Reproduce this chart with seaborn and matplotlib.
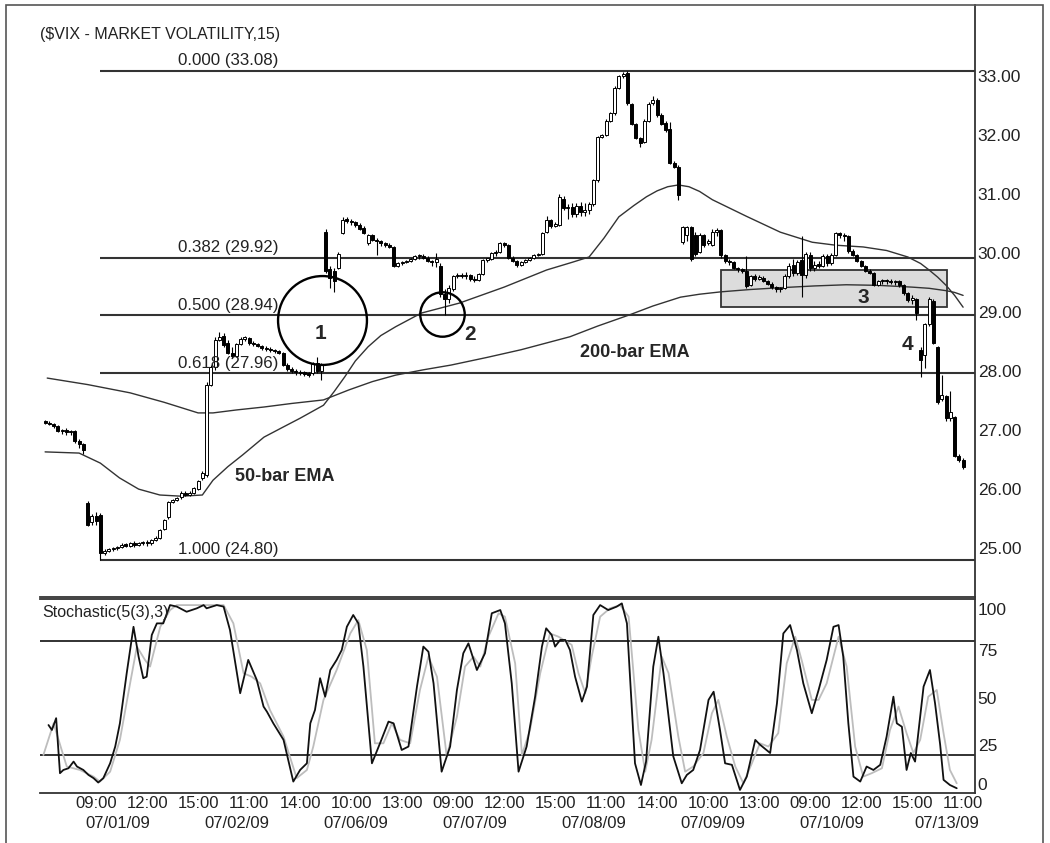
import numpy as np
import pandas as pd
import matplotlib
matplotlib.use('Agg')
import matplotlib.pyplot as plt
import matplotlib.transforms as mtransforms
from matplotlib.patches import Rectangle
import seaborn as sns

# ---- VIX 15-minute bars, 06/30/09 (last bars) .. 07/13/09 (morning) ----
days = ['06/30/09', '07/01/09', '07/02/09', '07/06/09', '07/07/09',
        '07/08/09', '07/09/09', '07/10/09', '07/13/09']
bars_per_day = [10, 28, 28, 28, 28, 28, 28, 28, 11]

open_ = [
    27.15, 27.12, 27.10, 27.06, 26.98, 27.00, 26.96, 26.98, 26.82, 26.76,
    25.77, 25.44, 25.54, 25.56, 24.92, 24.96, 24.98, 25.00, 25.02, 25.06, 25.04, 25.08, 25.05, 25.08,
    25.10, 25.08, 25.14, 25.18, 25.32, 25.52, 25.78, 25.82, 25.86, 25.94, 25.90, 25.93, 26.00, 26.18,
    26.24, 27.76, 28.06, 28.53, 28.60, 28.48, 28.30, 28.26, 28.46, 28.55, 28.56, 28.47, 28.45, 28.42,
    28.39, 28.37, 28.35, 28.33, 28.30, 28.10, 28.04, 28.00, 27.98, 27.96, 27.95, 27.96, 28.14, 28.00,
    30.35, 29.72, 29.70, 29.75, 30.34, 30.56, 30.54, 30.52, 30.47, 30.42, 30.16, 30.30, 30.22, 30.20,
    30.16, 30.14, 30.10, 29.78, 29.82, 29.84, 29.86, 29.90, 29.94, 29.95, 29.92, 29.86, 29.84, 29.78,
    29.30, 29.22, 29.38, 29.60, 29.63, 29.60, 29.62, 29.56, 29.54, 29.65, 29.88, 29.90, 29.99, 30.02,
    30.16, 30.13, 29.92, 29.86, 29.80, 29.84, 29.88, 29.92, 29.96, 29.98, 30.36, 30.55, 30.46, 30.48,
    30.92, 30.76, 30.78, 30.66, 30.80, 30.70, 30.72, 30.82, 31.23, 31.96, 32.00, 32.24, 32.36, 32.80,
    33.00, 33.04, 32.52, 32.18, 31.94, 31.88, 32.24, 32.54, 32.58, 32.33, 32.20, 32.10, 31.52, 31.46,
    30.18, 30.30, 30.44, 30.30, 30.02, 30.30, 30.16, 30.14, 30.36, 30.38, 29.96, 29.86, 29.84, 29.74,
    29.72, 29.70, 29.46, 29.60, 29.56, 29.58, 29.52, 29.48, 29.42, 29.38, 29.40, 29.60, 29.80, 29.66,
    29.88, 29.62, 29.96, 29.74, 29.80, 29.78, 29.94, 29.82, 29.96, 30.34, 30.30, 30.28, 30.04, 29.96,
    29.86, 29.78, 29.70, 29.66, 29.46, 29.52, 29.54, 29.52, 29.50, 29.52, 29.46, 29.32, 29.20, 29.22,
    28.35, 28.27, 28.80, 29.18, 28.40, 27.52, 27.58, 27.20, 27.22, 26.56, 26.50,
]
high_ = [
    27.17, 27.15, 27.12, 27.08, 27.02, 27.03, 27.00, 27.00, 26.84, 26.78,
    25.80, 25.58, 25.62, 25.60, 24.98, 25.00, 25.02, 25.04, 25.08, 25.08, 25.10, 25.12, 25.10, 25.12,
    25.14, 25.16, 25.20, 25.32, 25.50, 25.80, 25.84, 25.87, 25.96, 25.96, 25.96, 26.03, 26.16, 26.30,
    27.82, 28.10, 28.58, 28.66, 28.64, 28.52, 28.40, 28.48, 28.58, 28.60, 28.58, 28.50, 28.48, 28.44,
    28.42, 28.40, 28.38, 28.36, 28.32, 28.14, 28.06, 28.04, 28.02, 28.00, 27.98, 28.16, 28.24, 28.14,
    30.40, 29.78, 29.75, 30.02, 30.60, 30.60, 30.58, 30.54, 30.50, 30.46, 30.32, 30.32, 30.26, 30.22,
    30.18, 30.16, 30.12, 29.84, 29.86, 29.88, 29.92, 29.96, 29.98, 29.98, 29.94, 29.88, 30.00, 29.82,
    29.38, 29.45, 29.62, 29.66, 29.66, 29.68, 29.64, 29.60, 29.66, 29.90, 29.92, 30.02, 30.05, 30.18,
    30.18, 30.15, 29.95, 29.88, 29.86, 29.90, 29.93, 29.98, 30.00, 30.36, 30.62, 30.58, 30.52, 31.00,
    30.96, 30.82, 30.85, 30.84, 30.86, 30.84, 30.86, 31.25, 31.98, 32.02, 32.26, 32.38, 32.82, 33.02,
    33.06, 33.08, 32.54, 32.20, 31.96, 32.26, 32.56, 32.65, 32.62, 32.36, 32.24, 32.22, 31.55, 31.48,
    30.46, 30.46, 30.46, 30.36, 30.34, 30.32, 30.24, 30.40, 30.42, 30.40, 29.98, 29.90, 29.86, 29.76,
    29.74, 29.94, 29.62, 29.64, 29.62, 29.60, 29.54, 29.50, 29.44, 29.42, 29.64, 29.82, 29.90, 29.88,
    30.28, 30.02, 30.02, 29.86, 29.86, 29.98, 29.98, 29.99, 30.36, 30.36, 30.34, 30.30, 30.06, 29.98,
    29.88, 29.80, 29.72, 29.68, 29.54, 29.56, 29.56, 29.56, 29.54, 29.54, 29.48, 29.34, 29.28, 29.24,
    28.40, 28.82, 29.26, 29.22, 28.42, 27.94, 27.60, 27.66, 27.24, 26.60, 26.52,
]
low_ = [
    27.10, 27.08, 27.04, 26.96, 26.94, 26.92, 26.92, 26.78, 26.70, 26.60,
    25.38, 25.40, 25.40, 24.80, 24.88, 24.93, 24.95, 24.97, 25.00, 25.02, 25.02, 25.02, 25.03, 25.06,
    25.04, 25.06, 25.12, 25.16, 25.30, 25.50, 25.76, 25.80, 25.84, 25.88, 25.88, 25.92, 25.98, 26.16,
    26.20, 27.74, 28.02, 28.50, 28.40, 28.28, 28.22, 28.24, 28.44, 28.50, 28.44, 28.42, 28.40, 28.36,
    28.34, 28.32, 28.30, 28.28, 28.08, 28.00, 27.96, 27.94, 27.93, 27.92, 27.90, 27.94, 27.96, 27.85,
    29.66, 29.40, 29.33, 29.72, 30.32, 30.50, 30.48, 30.44, 30.38, 30.32, 30.14, 30.20, 29.97, 30.12,
    30.10, 30.08, 29.76, 29.76, 29.80, 29.82, 29.84, 29.88, 29.90, 29.90, 29.84, 29.78, 29.76, 29.25,
    28.95, 29.15, 29.35, 29.57, 29.58, 29.55, 29.52, 29.50, 29.52, 29.63, 29.84, 29.88, 29.95, 30.00,
    30.10, 29.90, 29.84, 29.76, 29.78, 29.82, 29.86, 29.90, 29.94, 29.96, 30.34, 30.42, 30.44, 30.46,
    30.72, 30.58, 30.60, 30.60, 30.62, 30.62, 30.66, 30.80, 31.20, 31.94, 31.98, 32.22, 32.34, 32.78,
    32.96, 32.50, 32.16, 31.92, 31.79, 31.86, 32.22, 32.50, 32.30, 32.16, 32.05, 31.50, 31.44, 30.90,
    30.15, 30.20, 29.86, 29.94, 30.00, 30.10, 30.14, 30.12, 30.28, 29.92, 29.82, 29.80, 29.72, 29.68,
    29.66, 29.40, 29.44, 29.52, 29.54, 29.50, 29.46, 29.38, 29.34, 29.33, 29.38, 29.58, 29.60, 29.62,
    29.26, 29.58, 29.70, 29.70, 29.74, 29.76, 29.78, 29.80, 29.94, 30.26, 30.20, 30.00, 29.94, 29.84,
    29.76, 29.68, 29.64, 29.44, 29.44, 29.48, 29.48, 29.48, 29.46, 29.42, 29.28, 29.16, 29.14, 28.86,
    27.90, 28.05, 28.76, 28.45, 27.44, 27.50, 27.16, 27.16, 26.54, 26.46, 26.34,
]
close_ = [
    27.12, 27.10, 27.06, 26.98, 27.00, 26.96, 26.98, 26.82, 26.76, 26.66,
    25.40, 25.54, 25.46, 24.92, 24.96, 24.98, 25.00, 25.02, 25.06, 25.04, 25.08, 25.05, 25.08, 25.10,
    25.08, 25.14, 25.18, 25.30, 25.48, 25.78, 25.82, 25.85, 25.94, 25.90, 25.93, 26.02, 26.14, 26.28,
    27.76, 28.06, 28.53, 28.58, 28.44, 28.30, 28.26, 28.46, 28.55, 28.56, 28.47, 28.45, 28.42, 28.39,
    28.37, 28.35, 28.33, 28.30, 28.10, 28.04, 28.00, 27.98, 27.96, 27.95, 27.94, 28.12, 28.00, 28.10,
    29.70, 29.58, 29.52, 29.98, 30.56, 30.54, 30.52, 30.47, 30.40, 30.34, 30.30, 30.22, 30.20, 30.16,
    30.14, 30.10, 29.78, 29.82, 29.84, 29.86, 29.90, 29.94, 29.95, 29.92, 29.86, 29.84, 29.90, 29.30,
    29.22, 29.40, 29.60, 29.63, 29.60, 29.62, 29.56, 29.54, 29.65, 29.88, 29.90, 29.99, 30.02, 30.16,
    30.13, 29.92, 29.86, 29.80, 29.84, 29.88, 29.92, 29.96, 29.98, 30.34, 30.56, 30.46, 30.48, 30.95,
    30.76, 30.78, 30.66, 30.80, 30.70, 30.72, 30.82, 31.23, 31.96, 32.00, 32.24, 32.36, 32.79, 33.00,
    33.03, 32.53, 32.18, 31.94, 31.86, 32.24, 32.52, 32.58, 32.33, 32.19, 32.08, 31.52, 31.46, 30.98,
    30.44, 30.44, 29.90, 29.98, 30.30, 30.14, 30.20, 30.36, 30.38, 29.96, 29.86, 29.84, 29.74, 29.72,
    29.70, 29.44, 29.60, 29.56, 29.58, 29.52, 29.48, 29.42, 29.38, 29.40, 29.60, 29.78, 29.66, 29.84,
    29.62, 29.98, 29.74, 29.80, 29.78, 29.94, 29.82, 29.96, 30.34, 30.30, 30.28, 30.04, 29.96, 29.86,
    29.78, 29.70, 29.66, 29.46, 29.52, 29.54, 29.52, 29.50, 29.52, 29.46, 29.32, 29.20, 29.24, 28.98,
    28.18, 28.80, 29.22, 28.48, 27.48, 27.60, 27.20, 27.30, 26.56, 26.50, 26.38,
]

# moving averages, read at points along the curves (bar number, price)
ema50_bar = [0, 8, 13, 17.5, 22, 27, 32, 37, 39.5, 43, 46.5, 51.5, 56, 60, 65.5, 68, 70.5, 73,
             76, 79, 82.5, 88.5, 97.5, 108, 118, 124, 128, 131.5, 135, 138.5, 141.5, 144, 146.5,
             149, 151.5, 154, 157, 165, 173, 180.5, 186, 192.5, 198, 203, 206, 208, 210, 212, 214, 216]
ema50 = [26.63, 26.61, 26.44, 26.19, 26.00, 25.90, 25.88, 25.90, 26.15, 26.38, 26.58, 26.88, 27.05,
         27.20, 27.42, 27.65, 27.90, 28.17, 28.41, 28.60, 28.75, 28.98, 29.15, 29.42, 29.71, 29.84,
         29.93, 30.25, 30.61, 30.80, 30.95, 31.05, 31.12, 31.15, 31.12, 31.04, 30.90, 30.62, 30.35,
         30.18, 30.13, 30.10, 30.04, 29.93, 29.82, 29.71, 29.59, 29.45, 29.28, 29.08]
ema200_bar = [0.5, 10, 20, 28, 36, 39.5, 45, 51.5, 58, 65.5, 71.5, 77, 82.5, 89, 95.5, 104, 112,
              123.5, 130, 137.5, 143, 149.5, 154, 159, 166, 173, 181, 188.5, 196, 204, 208, 212, 214, 216]
ema200 = [27.88, 27.77, 27.63, 27.47, 27.29, 27.29, 27.34, 27.39, 27.45, 27.51, 27.68, 27.82, 27.93,
          28.02, 28.10, 28.23, 28.36, 28.58, 28.76, 28.95, 29.10, 29.25, 29.30, 29.34, 29.38, 29.41,
          29.44, 29.46, 29.45, 29.42, 29.40, 29.36, 29.33, 29.28]

# Fibonacci retracement of the 24.80 -> 33.08 swing
fib_ratio = ['0.000', '0.382', '0.500', '0.618', '1.000']
fib_price = [33.08, 29.92, 28.94, 27.96, 24.80]

# Stochastic(5(3),3): %K (black) and %D (grey), read at points
k_bar = [0.8, 1.6, 2.6, 3.5, 4.3, 5.5, 6.7, 7.5, 9.0, 10.2,
         11.4, 12.5, 13.7, 15.3, 16.5, 17.6, 19.2, 20.8, 22.0, 23.1,
         23.9, 25.1, 26.3, 27.8, 29.4, 31.0, 33.3, 35.7, 37.3, 38.0,
         40.4, 42.0, 43.5, 45.9, 47.8, 49.8, 51.4, 52.2, 53.7, 56.1,
         58.4, 60.0, 61.6, 62.4, 63.5, 64.7, 65.9, 67.1, 68.6, 69.8,
         71.0, 72.5, 73.7, 74.9, 76.9, 78.8, 80.8, 82.0, 83.9, 85.5,
         87.5, 89.0, 90.2, 91.4, 93.3, 95.3, 96.9, 98.4, 99.6, 101.6,
         103.5, 105.1, 107.1, 108.2, 109.8, 111.4, 113.3, 115.3, 116.9, 117.9,
         119.2, 120.0, 121.2, 122.4, 123.5, 124.7, 126.3, 127.5, 129.0, 130.6,
         132.5, 134.5, 135.7, 136.9, 138.8, 140.2, 141.4, 143.1, 144.3, 145.5,
         147.8, 149.8, 151.0, 152.5, 154.1, 156.1, 157.3, 158.8, 160.0, 161.6,
         163.5, 165.1, 167.1, 168.2, 170.6, 172.2, 173.7, 175.3, 176.9, 178.4,
         180.4, 182.0, 183.9, 185.5, 186.7, 187.8, 189.0, 190.2, 191.8, 193.3,
         194.9, 196.5, 198.0, 199.6, 200.4, 201.6, 202.7, 203.7, 204.7, 206.7,
         208.2, 209.4, 210.6, 211.4, 212.9, 214.5]
k_val = [35.7, 33.1, 39.3, 10.4, 12.1, 13.0, 16.5, 13.9, 12.1, 9.5,
         7.8, 5.5, 7.8, 15.6, 24.4, 36.6, 62.9, 87.3, 71.6, 60.3,
         61.1, 83.0, 89.1, 89.1, 98.7, 97.9, 95.2, 97.0, 98.7, 97.0,
         98.7, 97.9, 85.6, 52.4, 69.9, 59.4, 45.4, 42.7, 36.6, 27.9,
         6.0, 12.1, 15.6, 36.6, 43.6, 60.3, 50.6, 64.6, 69.9, 75.1,
         87.3, 93.5, 89.1, 66.4, 15.6, 26.1, 37.5, 36.6, 22.6, 24.4,
         55.9, 76.9, 74.2, 57.6, 11.2, 24.4, 54.1, 73.4, 78.6, 64.6,
         73.4, 94.4, 96.1, 89.1, 57.6, 11.2, 24.4, 50.6, 76.9, 86.5,
         83.0, 76.9, 80.4, 80.4, 75.1, 61.1, 48.0, 55.9, 93.5, 98.7,
         96.1, 97.9, 99.6, 89.1, 15.6, 4.2, 16.5, 66.4, 82.1, 62.9,
         19.3, 5.1, 9.5, 12.1, 22.6, 48.9, 53.2, 33.1, 15.6, 14.8,
         1.6, 8.6, 27.9, 25.4, 21.0, 47.1, 83.8, 88.2, 75.1, 57.6,
         41.9, 54.1, 69.9, 87.3, 88.2, 71.6, 36.6, 8.6, 6.0, 13.9,
         12.1, 14.8, 29.6, 50.6, 36.6, 34.8, 12.1, 21.0, 16.5, 55.9,
         64.6, 47.1, 25.4, 6.9, 4.2, 2.5]
d_bar = [-0.4, 2.0, 3.9, 5.1, 8.2, 11.4, 12.9, 15.3, 17.6, 20.0,
         21.6, 23.5, 24.7, 27.1, 29.4, 31.0, 42.0, 44.3, 46.7, 48.6,
         50.6, 52.9, 56.1, 59.2, 61.6, 63.1, 65.5, 68.6, 71.8, 73.7,
         75.7, 77.6, 79.6, 81.6, 83.5, 85.9, 88.2, 90.2, 92.2, 94.5,
         96.9, 98.8, 100.8, 102.4, 104.3, 106.7, 108.2, 110.6, 112.2, 114.1,
         116.5, 118.8, 120.8, 122.0, 123.9, 125.5, 127.1, 128.6, 130.6, 132.9,
         135.3, 137.3, 139.6, 141.2, 142.7, 145.1, 146.7, 149.0, 150.6, 152.5,
         154.9, 156.9, 158.4, 160.4, 162.4, 164.3, 166.3, 168.2, 170.2, 172.5,
         174.5, 176.5, 178.0, 180.4, 182.0, 183.9, 186.7, 188.6, 190.6, 192.5,
         194.5, 196.9, 198.8, 200.8, 202.7, 204.3, 205.9, 207.8, 209.8, 211.4,
         212.9, 214.5]
d_val = [20.0, 36.6, 22.6, 13.9, 12.1, 8.6, 6.0, 11.2, 27.9, 57.6,
         76.9, 69.9, 66.4, 87.3, 96.1, 98.7, 98.7, 89.1, 62.9, 61.1,
         57.6, 43.6, 29.6, 7.8, 12.1, 24.4, 48.9, 64.6, 83.8, 90.8,
         75.1, 26.1, 26.1, 36.6, 27.9, 26.1, 54.1, 71.6, 61.1, 19.3,
         40.1, 66.4, 71.6, 66.4, 82.1, 94.4, 92.6, 68.1, 20.0, 33.1,
         62.9, 83.8, 82.1, 80.4, 77.8, 62.9, 52.4, 71.6, 92.6, 97.0,
         98.7, 92.6, 33.1, 11.2, 27.9, 71.6, 62.9, 29.6, 11.2, 13.9,
         21.0, 41.9, 48.9, 29.6, 13.9, 5.1, 15.6, 26.1, 24.4, 31.4,
         68.1, 82.1, 69.9, 48.9, 48.9, 57.6, 82.1, 66.4, 24.4, 8.6,
         10.4, 13.0, 33.1, 45.4, 31.4, 21.0, 27.9, 50.6, 54.1, 31.4,
         12.1, 5.1]

# axis labels
time_ticks = list(range(12, 217, 12))
time_labels = ['09:00', '12:00', '15:00', '11:00', '14:00', '10:00', '13:00', '09:00', '12:00',
               '15:00', '11:00', '14:00', '10:00', '13:00', '09:00', '12:00', '15:00', '11:00']
date_labels = ['07/01/09', '07/02/09', '07/06/09', '07/07/09', '07/08/09', '07/09/09', '07/10/09', '07/13/09']
date_pos = [9.5, 37.5, 65.5, 93.5, 121.5, 149.5, 177.5, 204.5]

sns.set_theme(style='white')
plt.rcParams['font.family'] = ['Liberation Sans', 'DejaVu Sans']

W, H = 1050, 843
fig = plt.figure(figsize=(W / 100, H / 100), dpi=100)
ax = fig.add_axes([40 / W, 1 - 597 / H, 935 / W, 592 / H])
ax2 = fig.add_axes([40 / W, 1 - 793 / H, 935 / W, 194 / H])

df = pd.DataFrame({'open': open_, 'high': high_, 'low': low_, 'close': close_})
df['bar'] = np.arange(len(df))
up = df['close'] >= df['open']
body_lo = df[['open', 'close']].min(axis=1)
body_h = (df['close'] - df['open']).abs().clip(lower=0.025)

# grey box around the consolidation (3)
ax.add_patch(Rectangle((159, 29.08), 53.2, 0.63, facecolor='#dcdcdc', edgecolor='#333333',
                       lw=1.3, zorder=1))

# fib lines + labels
for r, p in zip(fib_ratio, fib_price):
    ax.hlines(p, 13, 219, color='#333333', lw=1.5, zorder=2)
    ax.annotate(f'{r} ({p:.2f})', xy=(31.2, p), xytext=(0, 2), textcoords='offset points',
                ha='left', va='bottom', fontsize=12.2, color='#222222', zorder=6)

# EMAs
sns.lineplot(x=ema50_bar, y=ema50, ax=ax, color='#333333', lw=1.0, zorder=2)
sns.lineplot(x=ema200_bar, y=ema200, ax=ax, color='#333333', lw=1.0, zorder=2)

# candles
ax.vlines(df['bar'], df['low'], df['high'], color='black', lw=0.8, zorder=3)
ax.bar(df['bar'][up], body_h[up], bottom=body_lo[up], width=0.7, color='white',
       edgecolor='black', linewidth=0.7, zorder=4)
ax.bar(df['bar'][~up], body_h[~up], bottom=body_lo[~up], width=0.7, color='black',
       edgecolor='black', linewidth=0.7, zorder=4)

# callouts
ax.plot(65.2, 28.86, marker='o', ms=64, mfc='none', mec='black', mew=1.7, zorder=5)
ax.plot(93.3, 28.96, marker='o', ms=32, mfc='none', mec='black', mew=1.7, zorder=5)
for txt, bx, py in [('1', 64.7, 28.64), ('2', 100, 28.61), ('3', 192.5, 29.25), ('4', 203, 28.44)]:
    ax.text(bx, py, txt, fontsize=15, fontweight='bold', ha='center', va='center', zorder=6)
ax.text(125.9, 28.31, '200-bar EMA', fontsize=13, fontweight='bold', ha='left', va='center')
ax.text(44.7, 26.22, '50-bar EMA', fontsize=13, fontweight='bold', ha='left', va='center')

ax.set_xlim(-1.2, 218.8)
ax.set_ylim(24.173, 34.197)
ax.set_xticks([])
ax.yaxis.tick_right()
ax.set_yticks(range(25, 34))
ax.set_yticklabels([f'{v:.2f}' for v in range(25, 34)])
ax.tick_params(axis='y', length=0, pad=2, labelsize=12.5, colors='#222222')
ax.set_xlabel('')
ax.set_ylabel('')
for side in ['left', 'top']:
    ax.spines[side].set_visible(False)
for side in ['right', 'bottom']:
    ax.spines[side].set_color('#333333')
    ax.spines[side].set_linewidth(1.3)

# stochastic panel
ax2.axhline(80, color='#222222', lw=1.3)
ax2.axhline(20, color='#222222', lw=1.3)
sns.lineplot(x=d_bar, y=d_val, ax=ax2, color='#bdbdbd', lw=1.3)
sns.lineplot(x=k_bar, y=k_val, ax=ax2, color='#111111', lw=1.3)
ax2.set_xlim(-1.2, 218.8)
ax2.set_ylim(0, 101.9)
ax2.yaxis.tick_right()
ax2.set_yticks([0, 25, 50, 75, 100])
ax2.set_yticklabels(['0', '25', '50', '75', '100'])
ax2.tick_params(axis='y', length=0, pad=2, labelsize=12.5, colors='#222222')
ylabs = ax2.get_yticklabels()
ylabs[0].set_va('bottom')
ylabs[-1].set_va('top')
ax2.set_xticks(time_ticks)
ax2.set_xticklabels(time_labels)
ax2.tick_params(axis='x', length=0, pad=2.5, labelsize=12, colors='#222222')
ax2.set_xlabel('')
ax2.set_ylabel('')
ax2.spines['left'].set_visible(False)
for side in ['right', 'top', 'bottom']:
    ax2.spines[side].set_color('#333333')
    ax2.spines[side].set_linewidth(1.3)
ax2.text(0.002, 0.93, 'Stochastic(5(3),3)', transform=ax2.transAxes, fontsize=11.5,
         ha='left', va='center', color='#222222')

blend = mtransforms.blended_transform_factory(ax2.transData, ax2.transAxes)
for lab, pos in zip(date_labels, date_pos):
    ax2.text(pos, -0.155, lab, transform=blend, fontsize=12, ha='left', va='center',
             color='#222222', clip_on=False)

# chart title and outer frame
fig.text(40 / W, 1 - 35 / H, '($VIX - MARKET VOLATILITY,15)', fontsize=11.5,
         ha='left', va='center', color='#222222')
fig.add_artist(Rectangle((6 / W, -0.01), 1037 / W, 1.01 - 5 / H, transform=fig.transFigure,
                         fill=False, edgecolor='#555555', lw=1.2))

fig.savefig('out.png', dpi=100)
